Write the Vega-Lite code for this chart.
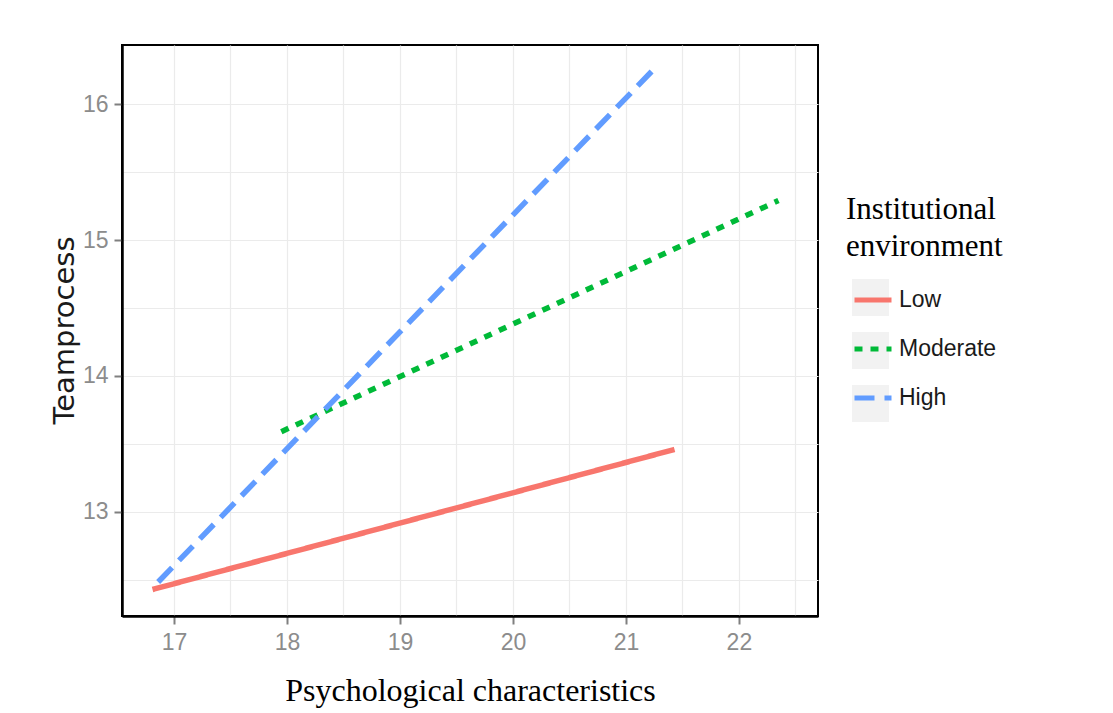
{
  "$schema": "https://vega.github.io/schema/vega-lite/v6.json",
  "autosize": {"type": "none"},
  "width": 696,
  "height": 571,
  "padding": {"left": 122, "top": 45, "right": 295, "bottom": 97},
  "background": "white",
  "config": {
    "view": {"stroke": "black", "strokeWidth": 2},
    "axis": {
      "domainColor": "black",
      "domainWidth": 2.5,
      "gridColor": "#EBEBEB",
      "gridWidth": 1.2,
      "tickColor": "#7F7F7F",
      "tickWidth": 2,
      "tickSize": 8,
      "labelColor": "#8C8C8C",
      "labelFont": "Liberation Sans",
      "labelFontSize": 23,
      "labelOverlap": false
    }
  },
  "data": {
    "values": [
      {"group": "Low", "psych": 16.81, "team": 12.43},
      {"group": "Low", "psych": 21.43, "team": 13.46},
      {"group": "Moderate", "psych": 17.95, "team": 13.59},
      {"group": "Moderate", "psych": 22.35, "team": 15.29},
      {"group": "High", "psych": 16.86, "team": 12.485},
      {"group": "High", "psych": 21.24, "team": 16.25}
    ]
  },
  "encoding": {
    "x": {
      "field": "psych",
      "type": "quantitative",
      "scale": {"domain": [16.54, 22.7], "nice": false, "zero": false},
      "axis": {
        "values": [16.5, 17, 17.5, 18, 18.5, 19, 19.5, 20, 20.5, 21, 21.5, 22, 22.5],
        "labelExpr": "datum.value % 1 === 0 ? format(datum.value, 'd') : ''",
        "tickOpacity": {"expr": "datum.value % 1 === 0 ? 1 : 0"},
        "labelPadding": 7,
        "title": "Psychological characteristics",
        "titleFont": "Liberation Serif",
        "titleFontSize": 32,
        "titleFontWeight": "normal",
        "titleColor": "black",
        "titleBaseline": "alphabetic",
        "titleY": 84
      }
    },
    "y": {
      "field": "team",
      "type": "quantitative",
      "scale": {"domain": [12.235, 16.434], "nice": false, "zero": false},
      "axis": {
        "values": [12.5, 13, 13.5, 14, 14.5, 15, 15.5, 16],
        "labelExpr": "datum.value % 1 === 0 ? format(datum.value, 'd') : ''",
        "tickOpacity": {"expr": "datum.value % 1 === 0 ? 1 : 0"},
        "labelPadding": 6,
        "title": "Teamprocess",
        "titleFont": "DejaVu Sans",
        "titleFontSize": 29,
        "titleFontWeight": "normal",
        "titleColor": "#1A1A1A",
        "titleAngle": -90,
        "titleAlign": "center",
        "titleBaseline": "alphabetic",
        "titleX": -49,
        "titleY": 285
      }
    }
  },
  "layer": [
    {
      "mark": {"type": "point", "shape": "square", "filled": true, "opacity": 0, "color": "#F2F2F2"},
      "encoding": {
        "shape": {
          "field": "group",
          "type": "nominal",
          "sort": ["Low", "Moderate", "High"],
          "scale": {"range": ["square", "square", "square"]},
          "legend": {
            "orient": "none",
            "legendX": 724,
            "legendY": 150,
            "zindex": 0,
            "padding": 0,
            "title": ["Institutional", "environment"],
            "titleFont": "Liberation Serif",
            "titleFontSize": 31,
            "titleFontWeight": "normal",
            "titleLineHeight": 37,
            "titleColor": "black",
            "titleOpacity": 0,
            "titlePadding": 16,
            "symbolSize": 1369,
            "symbolOpacity": 1,
            "symbolFillColor": "#F2F2F2",
            "symbolStrokeColor": "#F2F2F2",
            "symbolStrokeWidth": 0,
            "symbolOffset": 6,
            "rowPadding": 16,
            "labelOpacity": 0,
            "labelFont": "Liberation Sans",
            "labelFontSize": 23,
            "labelOffset": 5
          }
        }
      }
    },
    {
      "mark": {"type": "line", "strokeWidth": 5.5, "strokeCap": "butt"},
      "encoding": {
        "color": {
          "field": "group",
          "type": "nominal",
          "scale": {"domain": ["Low", "Moderate", "High"], "range": ["#F8766D", "#00BA38", "#619CFF"]},
          "legend": {
            "orient": "none",
            "legendX": 724,
            "legendY": 150,
            "zindex": 1,
            "padding": 0,
            "title": ["Institutional", "environment"],
            "titleFont": "Liberation Serif",
            "titleFontSize": 31,
            "titleFontWeight": "normal",
            "titleLineHeight": 37,
            "titleColor": "black",
            "titlePadding": 16,
            "symbolSize": 1369,
            "symbolStrokeWidth": 5,
            "symbolOffset": 6,
            "rowPadding": 16,
            "labelColor": "#1A1A1A",
            "labelFont": "Liberation Sans",
            "labelFontSize": 23,
            "labelOffset": 5
          }
        },
        "strokeDash": {
          "field": "group",
          "type": "nominal",
          "scale": {"domain": ["Low", "Moderate", "High"], "range": [[1, 0], [8, 8], [20, 10]]},
          "legend": null
        }
      }
    }
  ]
}
